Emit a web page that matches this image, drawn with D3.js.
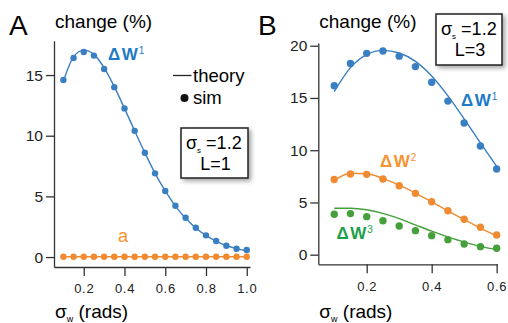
<!DOCTYPE html>
<html>
<head>
<meta charset="utf-8">
<script src="https://cdn.jsdelivr.net/npm/d3@7"></script>
<style>
  body { margin: 0; background: #fff; }
  svg { font-family: "Liberation Sans", Arial, Helvetica, sans-serif; }
  .tick text { fill: #222; }
  .domain, .tick line { stroke: #333; stroke-width: 1.3; }
</style>
</head>
<body>
<svg id="chart" width="508" height="323"></svg>
<script>
/* panel A : L=1, sigma_w from 0.1 to 1.0 */
const xA = [0.1, 0.15, 0.2, 0.25, 0.3, 0.35, 0.4, 0.45, 0.5, 0.55, 0.6, 0.65, 0.7, 0.75, 0.8, 0.85, 0.9, 0.95, 1.0];
const simA_W1 = [14.6, 16.4, 16.9, 16.6, 15.5, 14.0, 12.25, 10.4, 8.6, 6.9, 5.44, 4.23, 3.24, 2.42, 1.79, 1.32, 0.93, 0.69, 0.58];
const theoryA_W1 = [14.5, 16.5, 17.05, 16.7, 15.6, 14.05, 12.25, 10.4, 8.6, 6.9, 5.45, 4.2, 3.2, 2.4, 1.78, 1.3, 0.95, 0.7, 0.52];
const simA_a = [0.03, 0.03, 0.03, 0.03, 0.03, 0.03, 0.03, 0.03, 0.03, 0.03, 0.03, 0.03, 0.03, 0.03, 0.03, 0.03, 0.03, 0.03, 0.03];
const theoryA_a = [0.03, 0.03, 0.03, 0.03, 0.03, 0.03, 0.03, 0.03, 0.03, 0.03, 0.03, 0.03, 0.03, 0.03, 0.03, 0.03, 0.03, 0.03, 0.03];
const xTicksA = [0.2, 0.4, 0.6, 0.8, 1.0];
const yTicksA = [0, 5, 10, 15];

/* panel B : L=3, sigma_w from 0.1 to 0.6 */
const xB = [0.1, 0.15, 0.2, 0.25, 0.3, 0.35, 0.4, 0.45, 0.5, 0.55, 0.6];
const simB_W1 = [16.17, 18.3, 19.27, 19.49, 19.0, 18.0, 16.5, 14.7, 12.6, 10.4, 8.2];
const theoryB_W1 = [15.6, 17.9, 19.15, 19.55, 19.3, 18.5, 17.1, 15.2, 13.0, 10.7, 8.45];
const simB_W2 = [7.2, 7.72, 7.69, 7.24, 6.6, 5.87, 5.07, 4.21, 3.39, 2.62, 1.88];
const theoryB_W2 = [7.1, 7.8, 7.75, 7.3, 6.65, 5.9, 5.05, 4.2, 3.35, 2.55, 1.8];
const simB_W3 = [3.87, 3.93, 3.64, 3.25, 2.75, 2.3, 1.82, 1.44, 1.02, 0.77, 0.61];
const theoryB_W3 = [4.44, 4.45, 4.3, 3.95, 3.45, 2.85, 2.25, 1.7, 1.2, 0.8, 0.5];
const xTicksB = [0.2, 0.4, 0.6];
const yTicksB = [0, 5, 10, 15, 20];

const blue = "#3a7fc1", orange = "#f08b32", green = "#45a03c";
const blueText = "#1d7bc5", orangeText = "#f7932f", greenText = "#1aa04a";

const svg = d3.select("#chart");

/* drop shadow for the parameter boxes */
const filt = svg.append("defs").append("filter").attr("id", "shadow")
    .attr("x", "-20%").attr("y", "-20%").attr("width", "150%").attr("height", "150%");
filt.append("feDropShadow").attr("dx", 2.5).attr("dy", 2.5).attr("stdDeviation", 2)
    .attr("flood-color", "#000").attr("flood-opacity", 0.35);

function drawPanel(p){
    const g = svg.append("g");

    g.append("g").attr("transform", "translate(0," + p.y.range()[0] + ")")
        .call(d3.axisBottom(p.x).tickValues(p.xTicks).tickSize(9).tickSizeOuter(0)
            .tickFormat(d3.format(".1f")))
        .call(a => a.selectAll("text").attr("dy", "1.1em").style("font-size", "13px").style("letter-spacing", "0.7px"));

    g.append("g").attr("transform", "translate(" + p.x.range()[0] + ",0)")
        .call(d3.axisLeft(p.y).tickValues(p.yTicks).tickSize(8).tickSizeOuter(0).tickPadding(3))
        .call(a => a.selectAll("text").style("font-size", "15.5px"));

    const line = d3.line().x((d, i) => p.x(p.xs[i])).y(d => p.y(d)).curve(d3.curveMonotoneX);

    p.series.forEach(s => {
        g.append("path").datum(s.theory)
            .attr("d", line).attr("fill", "none")
            .attr("stroke", s.color).attr("stroke-width", 1.4);
        g.selectAll(null).data(s.sim).enter().append("circle")
            .attr("cx", (d, i) => p.x(p.xs[i]))
            .attr("cy", d => p.y(d))
            .attr("r", p.r)
            .attr("fill", s.color);
    });

    /* panel letter + y title */
    g.append("text").attr("x", p.letterX).attr("y", 35)
        .style("font-size", "28px").text(p.letter);
    g.append("text").attr("x", p.x.range()[0] + 1).attr("y", 28)
        .style("font-size", "19px").text("change (%)");

    /* x title */
    const xt = g.append("text").attr("x", p.x.range()[0] + 1).attr("y", 318).style("font-size", "19px");
    xt.append("tspan").text("σ");
    xt.append("tspan").attr("dy", 4).style("font-size", "9px").text("w");
    xt.append("tspan").attr("dy", -4).text(" (rads)");

    /* parameter box */
    g.append("rect").attr("x", p.box[0]).attr("y", p.box[1])
        .attr("width", p.box[2]).attr("height", p.box[3])
        .attr("fill", "#fff").attr("stroke", "#222").attr("stroke-width", 1.5)
        .attr("filter", "url(#shadow)");
    const b1 = g.append("text").attr("x", p.box[0] + 5).attr("y", p.box[1] + 21).style("font-size", "18px");
    b1.append("tspan").text("σ");
    b1.append("tspan").attr("dy", 4).style("font-size", "8px").text("s");
    b1.append("tspan").attr("dy", -4).text(" =1.2");
    g.append("text").attr("x", p.box[0] + p.box[2] / 2 + 1).attr("y", p.box[1] + 42)
        .attr("text-anchor", "middle").style("font-size", "18px").text("L=" + p.L);

    p.labels.forEach(l => {
        const t = g.append("text").attr("x", l.x).attr("y", l.y)
            .attr("fill", l.color).style("font-weight", l.sup ? "bold" : "normal")
            .style("font-size", l.sup ? "17px" : "18px");
        if(l.sup){
            t.append("tspan").text("Δ");
            t.append("tspan").attr("dx", 1.5).text("W");
            t.append("tspan").attr("dx", 1).attr("dy", -6).style("font-size", "10px").style("font-weight", "normal").text(l.sup);
        } else {
            t.text(l.text);
        }
    });
    return g;
}

const panelA = drawPanel({
    x: d3.scaleLinear().domain([0.054, 1.016]).range([54, 250]),
    y: d3.scaleLinear().domain([-0.82, 17.83]).range([267, 40.7]),
    xs: xA, xTicks: xTicksA, yTicks: yTicksA, r: 3.2,
    series: [
        {sim: simA_a, theory: theoryA_a, color: orange},
        {sim: simA_W1, theory: theoryA_W1, color: blue}
    ],
    letter: "A", letterX: 9, L: 1,
    box: [181, 128, 67, 50],
    labels: [
        {x: 108, y: 60, color: blueText, sup: "1"},
        {x: 118, y: 242, color: orangeText, text: "a"}
    ]
});

/* legend in panel A */
panelA.append("line").attr("x1", 173).attr("x2", 191.5).attr("y1", 75.5).attr("y2", 75.5)
    .attr("stroke", "#222").attr("stroke-width", 1.3);
panelA.append("text").attr("x", 193).attr("y", 82).style("font-size", "18.5px").text("theory");
panelA.append("circle").attr("cx", 184.5).attr("cy", 98).attr("r", 4).attr("fill", "#111");
panelA.append("text").attr("x", 193).attr("y", 103.5).style("font-size", "18.5px").text("sim");

drawPanel({
    x: d3.scaleLinear().domain([0.051, 0.602]).range([318.3, 497.3]),
    y: d3.scaleLinear().domain([-0.92, 20.26]).range([264.3, 43]),
    xs: xB, xTicks: xTicksB, yTicks: yTicksB, r: 3.7,
    series: [
        {sim: simB_W3, theory: theoryB_W3, color: green},
        {sim: simB_W2, theory: theoryB_W2, color: orange},
        {sim: simB_W1, theory: theoryB_W1, color: blue}
    ],
    letter: "B", letterX: 258, L: 3,
    box: [436, 14, 66, 51],
    labels: [
        {x: 461, y: 105.5, color: blueText, sup: "1"},
        {x: 380, y: 167, color: orangeText, sup: "2"},
        {x: 336.5, y: 239, color: greenText, sup: "3"}
    ]
});
</script>
</body>
</html>
